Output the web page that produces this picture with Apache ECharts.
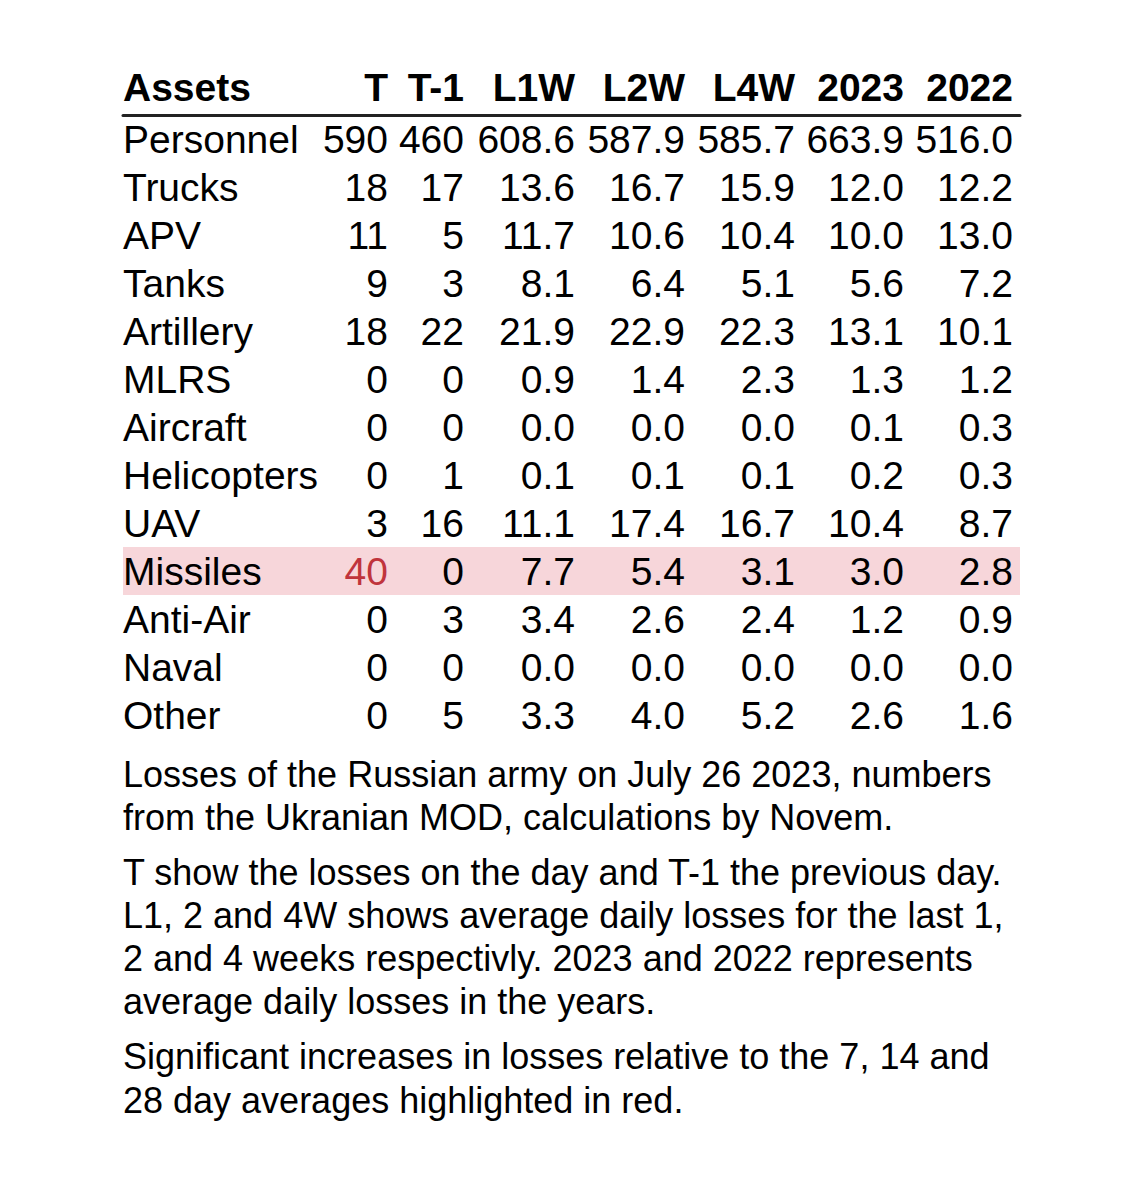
<!DOCTYPE html>
<html>
<head>
<meta charset="utf-8">
<script src="https://cdn.jsdelivr.net/npm/echarts@6/dist/echarts.min.js"></script>
<style>
  html, body { margin: 0; padding: 0; background: #fff; }
  #chart { width: 1140px; height: 1182px; }
</style>
</head>
<body>
<div id="chart"></div>
<script>
// table data
const assets = ['Personnel', 'Trucks', 'APV', 'Tanks', 'Artillery', 'MLRS', 'Aircraft',
    'Helicopters', 'UAV', 'Missiles', 'Anti-Air', 'Naval', 'Other'];
const columns = ['T', 'T-1', 'L1W', 'L2W', 'L4W', '2023', '2022'];
const colT = [590, 18, 11, 9, 18, 0, 0, 0, 3, 40, 0, 0, 0];
const colT1 = [460, 17, 5, 3, 22, 0, 0, 1, 16, 0, 3, 0, 5];
const colL1W = [608.6, 13.6, 11.7, 8.1, 21.9, 0.9, 0.0, 0.1, 11.1, 7.7, 3.4, 0.0, 3.3];
const colL2W = [587.9, 16.7, 10.6, 6.4, 22.9, 1.4, 0.0, 0.1, 17.4, 5.4, 2.6, 0.0, 4.0];
const colL4W = [585.7, 15.9, 10.4, 5.1, 22.3, 2.3, 0.0, 0.1, 16.7, 3.1, 2.4, 0.0, 5.2];
const col2023 = [663.9, 12.0, 10.0, 5.6, 13.1, 1.3, 0.1, 0.2, 10.4, 3.0, 1.2, 0.0, 2.6];
const col2022 = [516.0, 12.2, 13.0, 7.2, 10.1, 1.2, 0.3, 0.3, 8.7, 2.8, 0.9, 0.0, 1.6];
const decimals = [0, 0, 1, 1, 1, 1, 1];

// which cells are flagged as a significant increase
const highlightRows = ['Missiles'];
const highlightCells = [['Missiles', 'T']];

const notes = [
    'Losses of the Russian army on July 26 2023, numbers\nfrom the Ukranian MOD, calculations by Novem.',
    'T show the losses on the day and T-1 the previous day.\nL1, 2 and 4W shows average daily losses for the last 1,\n2 and 4 weeks respectivly. 2023 and 2022 represents\naverage daily losses in the years.',
    'Significant increases in losses relative to the 7, 14 and\n28 day averages highlighted in red.'
];

// layout: right edge of each value column, measured from the table's left edge
const colRight = [265, 341, 452, 562, 672, 781, 890];
const FONT = 'Liberation Sans, Arial, Helvetica, sans-serif';
const TABLE_SIZE = 39;
const NOTE_SIZE = 36;
const RED = '#c0343c';
const PINK = '#f7d6da';

const valueCols = [colT, colT1, colL1W, colL2W, colL4W, col2023, col2022];

function cellText(c, r) {
    return valueCols[c][r].toFixed(decimals[c]);
}

function isFlagged(asset, col) {
    return highlightCells.some(h => h[0] === asset && h[1] === col);
}

let chart = echarts.init(document.getElementById('chart'), null, {renderer: 'svg'});

let option = {
    backgroundColor: '#fff',
    animation: false,
    title: notes.map((t, i) => ({
        text: t,
        left: 123,
        top: [753, 851, 1034][i],
        padding: 0,
        textStyle: {
            fontFamily: FONT,
            fontSize: NOTE_SIZE,
            fontWeight: 'normal',
            color: '#000',
            lineHeight: [43, 43, 44][i]
        }
    })),
    grid: {
        left: 123,
        right: 120,
        top: 115,
        height: assets.length * 48
    },
    xAxis: {
        type: 'value',
        min: 0,
        max: 1,
        position: 'top',
        axisLine: {show: true, onZero: false, lineStyle: {color: '#222', width: 3}},
        axisTick: {show: false},
        axisLabel: {show: false},
        splitLine: {show: false}
    },
    yAxis: {
        type: 'category',
        inverse: true,
        data: assets,
        axisLine: {show: false},
        axisTick: {show: false},
        axisLabel: {show: false},
        splitLine: {show: false}
    },
    series: [
        {
            // header row above the rule
            type: 'custom',
            name: 'header',
            data: [[0, 0]],
            renderItem: function (params, api) {
                let x0 = params.coordSys.x;
                let y = params.coordSys.y - 28;
                let style = {fontFamily: FONT, fontSize: TABLE_SIZE, fontWeight: 'bold', fill: '#000',
                    verticalAlign: 'middle'};
                let children = [{
                    type: 'text', x: x0, y: y,
                    style: Object.assign({text: 'Assets', align: 'left'}, style)
                }];
                columns.forEach((col, c) => {
                    children.push({
                        type: 'text', x: x0 + colRight[c], y: y,
                        style: Object.assign({text: col, align: 'right'}, style)
                    });
                });
                return {type: 'group', children: children};
            }
        },
        {
            // one item per asset row
            type: 'custom',
            name: 'rows',
            data: assets.map((a, i) => [0, i]),
            renderItem: function (params, api) {
                let r = params.dataIndex;
                let asset = assets[r];
                let x0 = params.coordSys.x;
                let w = params.coordSys.width;
                let y = api.coord([0, r])[1];
                let h = api.size([0, 1])[1];
                let children = [];
                if (highlightRows.indexOf(asset) !== -1) {
                    children.push({
                        type: 'rect',
                        shape: {x: x0, y: y - h / 2, width: w, height: h},
                        style: {fill: PINK}
                    });
                }
                let style = {fontFamily: FONT, fontSize: TABLE_SIZE, verticalAlign: 'middle'};
                children.push({
                    type: 'text', x: x0, y: y,
                    style: Object.assign({text: asset, align: 'left', fill: '#000'}, style)
                });
                columns.forEach((col, c) => {
                    children.push({
                        type: 'text', x: x0 + colRight[c], y: y,
                        style: Object.assign({
                            text: cellText(c, r),
                            align: 'right',
                            fill: isFlagged(asset, col) ? RED : '#000'
                        }, style)
                    });
                });
                return {type: 'group', children: children};
            }
        }
    ]
};

option && chart.setOption(option);
</script>
</body>
</html>
